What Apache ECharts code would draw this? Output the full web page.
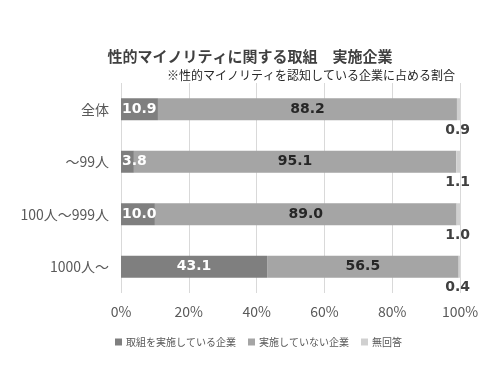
<!DOCTYPE html>
<html>
<head>
<meta charset="utf-8">
<script src="https://cdn.jsdelivr.net/npm/echarts@6/dist/echarts.min.js"></script>
<style>html,body{margin:0;padding:0;background:#fff}#c{width:500px;height:375px}</style>
</head>
<body>
<div id="c"></div>
<script>
const categories = ['全体', '～99人', '100人～999人', '1000人～'];
const seriesNames = ['取組を実施している企業', '実施していない企業', '無回答'];
const implemented = [10.9, 3.8, 10.0, 43.1];
const notImplemented = [88.2, 95.1, 89.0, 56.5];
const noAnswer = [0.9, 1.1, 1.0, 0.4];
const tickLabels = ['0%', '20%', '40%', '60%', '80%', '100%'];

const font = '"Noto Sans CJK JP", "Noto Sans", sans-serif';
const numFont = '"DejaVu Sans", "Noto Sans CJK JP", sans-serif';
const chart = echarts.init(document.getElementById('c'));
chart.setOption({
  backgroundColor: '#fff',
  textStyle: { fontFamily: font },
  title: [
    { text: '性的マイノリティに関する取組　実施企業', left: 'center', top: 44,
      textStyle: { fontSize: 15, fontWeight: 'bold', color: '#404040', fontFamily: font } },
    { text: '※性的マイノリティを認知している企業に占める割合', left: 162, top: 64,
      textStyle: { fontSize: 12, fontWeight: 'normal', color: '#262626', fontFamily: font } }
  ],
  legend: {
    data: seriesNames, left: 110, top: 332, itemWidth: 7, itemHeight: 7, itemGap: 12,
    icon: 'rect', textStyle: { fontSize: 10, color: '#595959', fontFamily: font, padding: [0, 0, 0, -1] }
  },
  grid: { left: 121, right: 40, top: 83, bottom: 82 },
  xAxis: {
    type: 'value', min: 0, max: 100, interval: 20,
    axisLine: { show: false }, axisTick: { show: false },
    splitLine: { lineStyle: { color: '#d9d9d9', width: 1 } },
    axisLabel: { fontSize: 14, color: '#595959', margin: 12,
      formatter: v => tickLabels[Math.round(v / 20)] }
  },
  yAxis: {
    type: 'category', data: categories, inverse: true,
    axisLine: { show: false }, axisTick: { show: false },
    axisLabel: { fontSize: 14, color: '#595959', margin: 12 }
  },
  series: [
    { name: seriesNames[0], type: 'bar', stack: 's', barWidth: 22,
      itemStyle: { color: '#7f7f7f' },
      label: { show: true, color: '#fff', fontWeight: 'bold', fontSize: 14, fontFamily: numFont,
        formatter: p => p.value.toFixed(1) },
      data: implemented.map(v => v < 20
        ? { value: v, label: { position: 'insideLeft', distance: 1 } }
        : { value: v, label: { position: 'inside' } }) },
    { name: seriesNames[1], type: 'bar', stack: 's', barWidth: 22,
      itemStyle: { color: '#a5a5a5' },
      label: { show: true, position: 'inside', color: '#262626', fontWeight: 'bold', fontSize: 14, fontFamily: numFont,
        formatter: p => p.value.toFixed(1) },
      data: notImplemented },
    { name: seriesNames[2], type: 'bar', stack: 's', barWidth: 22,
      itemStyle: { color: '#d0d0d0' },
      label: { show: true, position: ['100%', '100%'], offset: [10, 10], align: 'right', verticalAlign: 'middle',
        color: '#404040', fontWeight: 'bold', fontSize: 14, fontFamily: numFont,
        formatter: p => p.value.toFixed(1) },
      data: noAnswer }
  ]
});
</script>
</body>
</html>
